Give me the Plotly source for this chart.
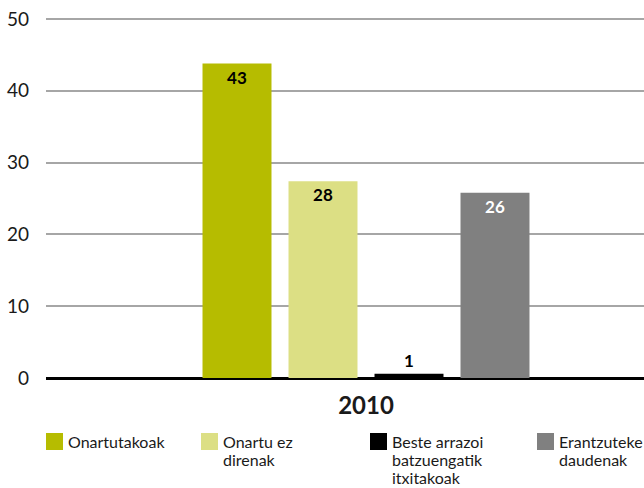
import plotly.graph_objects as go

# ---- data ----
category = ["2010"]
series_names = ["Onartutakoak", "Onartu ez direnak",
                "Beste arrazoi batzuengatik itxitakoak", "Erantzuteke daudenak"]
legend_lines = [["Onartutakoak"], ["Onartu ez", "direnak"],
                ["Beste arrazoi", "batzuengatik", "itxitakoak"],
                ["Erantzuteke", "daudenak"]]
values = [43.8, 27.4, 0.6, 25.8]
value_labels = ["43", "28", "1", "26"]
colors = ["#b6bc00", "#dcdf84", "#000000", "#808080"]
label_colors = ["#000000", "#000000", "#000000", "#ffffff"]
y_ticks = [0, 10, 20, 30, 40, 50]

FONT = "Lato, 'Open Sans', sans-serif"
W, H = 644, 488
PLOT_LEFT, PLOT_BOTTOM = 46, 378
PX_PER_UNIT = (378 - 19) / 50.0
MT = 15                                    # a few px above the 50 gridline so it is drawn
Y_TOP = 50 + (19 - MT) / PX_PER_UNIT
PW = W - PLOT_LEFT
PH = PLOT_BOTTOM - MT
MB = H - PLOT_BOTTOM

fig = go.Figure()
for i, name in enumerate(series_names):
    fig.add_trace(go.Bar(
        x=category, y=[values[i]], name=name,
        marker=dict(color=colors[i], line=dict(width=0)),
        text=[value_labels[i]],
        textposition="outside" if values[i] < 5 else "inside",
        insidetextanchor="end",
        textangle=0,
        cliponaxis=False,
        textfont=dict(family=FONT, size=17, color=label_colors[i], weight="bold"),
        showlegend=False,
    ))

# manual legend (pixel positions converted to paper coords)
def px_x(px):
    return (px - PLOT_LEFT) / PW

def px_y(py):
    return (PLOT_BOTTOM - py) / PH

sq_x = [46, 201, 370, 537]
shapes = []
annotations = []
for i, lines in enumerate(legend_lines):
    x0 = sq_x[i]
    shapes.append(dict(type="rect", xref="paper", yref="paper",
                       x0=px_x(x0), x1=px_x(x0 + 17), y0=px_y(450), y1=px_y(433),
                       fillcolor=colors[i], line=dict(width=0)))
    for j, line in enumerate(lines):
        annotations.append(dict(xref="paper", yref="paper",
                                x=px_x(x0 + 20), y=px_y(441 + 18 * j),
                                xanchor="left", yanchor="middle", showarrow=False,
                                text=line, font=dict(family=FONT, size=16, color="#1a1a1a")))

unit = 344 / 0.7
fig.update_layout(
    width=W, height=H,
    margin=dict(l=PLOT_LEFT, r=0, t=MT, b=MB, pad=0),
    paper_bgcolor="white", plot_bgcolor="white",
    barmode="group", bargap=0.3, bargroupgap=0.198,
    font=dict(family=FONT, color="#1a1a1a"),
    showlegend=False,
    shapes=shapes,
    annotations=annotations,
    xaxis=dict(type="category", range=[-320 / unit, (PW - 320) / unit],
               showgrid=False, showline=False, ticks="",
               tickfont=dict(family=FONT, size=24, color="#1a1a1a", weight="bold"),
               ticklabelstandoff=11),
    yaxis=dict(range=[0, Y_TOP], tickvals=y_ticks, showgrid=True,
               gridcolor="#a6a6a6", gridwidth=1.5,
               zeroline=True, zerolinecolor="#000000", zerolinewidth=3,
               showline=False, ticks="", ticklabeloverflow="allow",
               tickfont=dict(family=FONT, size=19, color="#1a1a1a"),
               ticklabelstandoff=16),
)

fig.write_html("out.html",
               config={"displayModeBar": False},
               post_script="document.body.style.margin='0';document.body.style.overflow='hidden';")
